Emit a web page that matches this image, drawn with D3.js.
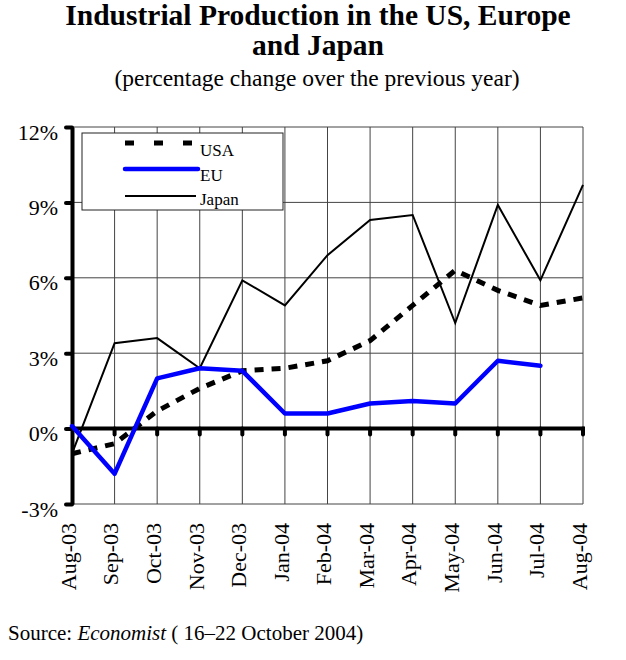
<!DOCTYPE html>
<html>
<head>
<meta charset="utf-8">
<script src="https://cdn.jsdelivr.net/npm/d3@7"></script>
<style>
  body { margin: 0; background: #fff; }
  svg { font-family: "Liberation Serif", "Times New Roman", serif; }
</style>
</head>
<body>
<div id="chart"></div>
<script>
// months on the x axis
var months = ["Aug-03", "Sep-03", "Oct-03", "Nov-03", "Dec-03", "Jan-04", "Feb-04",
              "Mar-04", "Apr-04", "May-04", "Jun-04", "Jul-04", "Aug-04"];
// % change over previous year
var usa   = [-1.0, -0.6, 0.7, 1.6, 2.3, 2.4, 2.7, 3.5, 4.9, 6.3, 5.5, 4.9, 5.2];
var eu    = [0.1, -1.8, 2.0, 2.4, 2.3, 0.6, 0.6, 1.0, 1.1, 1.0, 2.7, 2.5, null];
var japan = [-1.0, 3.4, 3.6, 2.4, 5.9, 4.9, 6.9, 8.3, 8.5, 4.2, 8.9, 5.9, 9.7];
var yTicks = [-3, 0, 3, 6, 9, 12];

var width = 626,
    height = 660,
    margin = {top: 127, right: 43, bottom: 156, left: 72};

var svg = d3.select("#chart")
    .append("svg")
    .attr("width", width)
    .attr("height", height);

var x = d3.scalePoint().domain(months).range([margin.left, width - margin.right]);
var y = d3.scaleLinear().domain([-3, 12]).range([height - margin.bottom, margin.top]);

// titles
svg.append("text")
    .attr("x", 318).attr("y", 25)
    .attr("text-anchor", "middle")
    .style("font-size", "29.5px").style("font-weight", "bold")
    .text("Industrial Production in the US, Europe");
svg.append("text")
    .attr("x", 318).attr("y", 55)
    .attr("text-anchor", "middle")
    .style("font-size", "29.5px").style("font-weight", "bold")
    .text("and Japan");
svg.append("text")
    .attr("x", 317).attr("y", 86)
    .attr("text-anchor", "middle")
    .style("font-size", "23.5px")
    .text("(percentage change over the previous year)");

// grid
var grid = svg.append("g").attr("class", "grid");
grid.selectAll(".hgrid")
    .data(yTicks.filter(d => d !== 0))
    .enter().append("line")
    .attr("x1", x.range()[0]).attr("x2", x.range()[1])
    .attr("y1", d => y(d)).attr("y2", d => y(d))
    .attr("stroke", "#444").attr("stroke-width", 1);
grid.selectAll(".vgrid")
    .data(months.slice(1))
    .enter().append("line")
    .attr("x1", d => x(d)).attr("x2", d => x(d))
    .attr("y1", y(12)).attr("y2", y(-3))
    .attr("stroke", "#444").attr("stroke-width", 1);

// zero line with little ticks
svg.append("line")
    .attr("x1", x.range()[0]).attr("x2", x.range()[1] + 2)
    .attr("y1", y(0)).attr("y2", y(0))
    .attr("stroke", "#000").attr("stroke-width", 4);
svg.selectAll(".ztick")
    .data(months.slice(1))
    .enter().append("line")
    .attr("x1", d => x(d)).attr("x2", d => x(d))
    .attr("y1", y(0)).attr("y2", y(0) + 6)
    .attr("stroke", "#000").attr("stroke-width", 4)
    .attr("stroke-linecap", "round");

// y axis
var yAxis = d3.axisLeft(y)
    .tickValues(yTicks)
    .tickFormat(d => d + "%")
    .tickSize(6)
    .tickPadding(8)
    .tickSizeOuter(0);
var gy = svg.append("g")
    .attr("transform", `translate(${margin.left},0)`)
    .call(yAxis);
gy.select(".domain").attr("stroke-width", 4);
gy.selectAll(".tick line").attr("stroke-width", 4).attr("stroke-linecap", "round");
gy.selectAll(".tick text")
    .attr("dy", "0.55em")
    .style("font-size", "22px")
    .style("font-family", "Liberation Serif, serif")
    .attr("fill", "#000");

// x axis labels
var xAxis = d3.axisBottom(x).tickSize(0).tickSizeOuter(0);
var gx = svg.append("g")
    .attr("transform", `translate(0,${y(-3)})`)
    .call(xAxis);
gx.select(".domain").remove();
gx.selectAll(".tick text")
    .attr("transform", "rotate(-90)")
    .attr("x", -19).attr("y", 0)
    .attr("dy", "0.15em")
    .style("text-anchor", "end")
    .style("font-size", "22px")
    .style("font-family", "Liberation Serif, serif")
    .attr("fill", "#000");

// series
var line = d3.line()
    .defined(d => d.v !== null)
    .x(d => x(d.m))
    .y(d => y(d.v));
var toPts = arr => months.map((m, i) => ({m: m, v: arr[i]}));

svg.append("path")
    .datum(toPts(japan))
    .attr("d", line)
    .attr("fill", "none").attr("stroke", "#000").attr("stroke-width", 2);
svg.append("path")
    .datum(toPts(usa))
    .attr("d", line)
    .attr("fill", "none").attr("stroke", "#000").attr("stroke-width", 5)
    .attr("stroke-dasharray", "9,8");
svg.append("path")
    .datum(toPts(eu))
    .attr("d", line)
    .attr("fill", "none").attr("stroke", "#0000ff").attr("stroke-width", 4.5)
    .attr("stroke-linejoin", "round").attr("stroke-linecap", "round");

// legend
var legend = svg.append("g");
legend.append("rect")
    .attr("x", 82).attr("y", 133).attr("width", 201).attr("height", 77)
    .attr("fill", "#fff").attr("stroke", "#222").attr("stroke-width", 1);
var legendItems = [
    {name: "USA", y: 143, ty: 156, x2: 192, color: "#000", w: 5, dash: "9,20", cap: "butt"},
    {name: "EU", y: 169, ty: 181, x2: 198, color: "#0000ff", w: 4.5, dash: null, cap: "round"},
    {name: "Japan", y: 196, ty: 205, x2: 196, color: "#000", w: 2, dash: null, cap: "butt"}
];
legend.selectAll(".lline")
    .data(legendItems)
    .enter().append("line")
    .attr("x1", 125).attr("x2", d => d.x2)
    .attr("y1", d => d.y).attr("y2", d => d.y)
    .attr("stroke", d => d.color).attr("stroke-width", d => d.w)
    .attr("stroke-dasharray", d => d.dash)
    .attr("stroke-linecap", d => d.cap);
legend.selectAll(".ltext")
    .data(legendItems)
    .enter().append("text")
    .attr("x", 200).attr("y", d => d.ty)
    .style("font-size", "17px")
    .text(d => d.name);

// source
var src = svg.append("text")
    .attr("x", 8).attr("y", 640)
    .style("font-size", "21px");
src.append("tspan").text("Source: ");
src.append("tspan").style("font-style", "italic").text("Economist");
src.append("tspan").text(" ( 16\u201322 October 2004)");
</script>
</body>
</html>
